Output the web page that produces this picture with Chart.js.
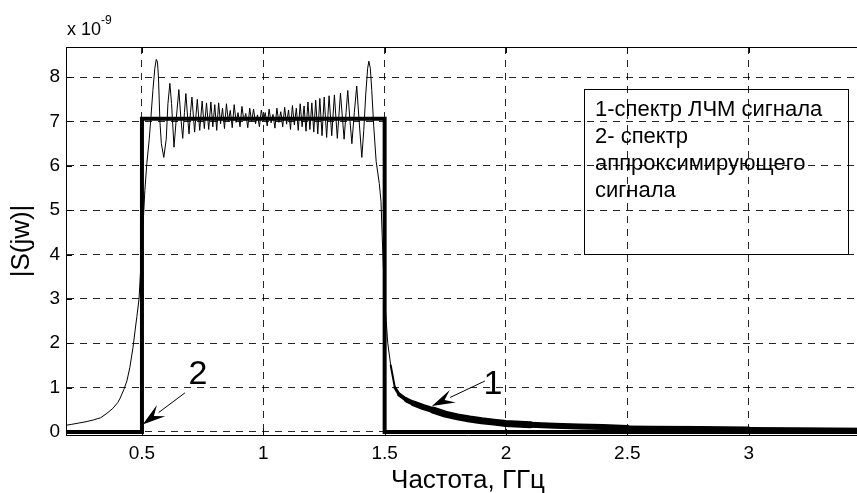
<!DOCTYPE html>
<html>
<head>
<meta charset="utf-8">
<script src="https://cdn.jsdelivr.net/npm/chart.js@4.4.0/dist/chart.umd.min.js"></script>
<style>
  html, body { margin:0; padding:0; background:#fff; overflow:hidden; }
  #wrap { width:900px; height:493px; }
</style>
</head>
<body>
<div id="wrap"><canvas id="c" width="900" height="493"></canvas></div>
<script>
// === data ===
const X_MIN = 0.187, X_MAX = 3.5;
const Y_MIN = -0.07, Y_MAX = 8.68;
const xTicks = [0.5, 1, 1.5, 2, 2.5, 3];
const yTicks = [0, 1, 2, 3, 4, 5, 6, 7, 8];

// 1 - spectrum of the LFM signal
const freq1 = [
  0.187,0.21,0.24,0.27,0.30,0.33,0.356,0.38,0.40,0.41,0.425,0.438,0.45,0.463,0.472,0.479,0.488,
  0.50,0.512,0.52,0.53,0.537,0.545,0.553,0.559,0.564,0.568,0.574,0.58,0.59,0.60,0.607,0.615,
  0.622,0.632,0.642,0.652,0.660,0.668,0.675,0.681,0.688,0.694,0.700,0.706,0.717,0.728,0.738,
  0.748,0.757,0.766,0.775,0.784,0.792,0.800,0.808,0.816,0.824,0.832,0.840,0.848,0.856,0.864,
  0.872,0.880,0.888,0.896,0.904,0.912,0.920,0.928,0.936,0.944,0.952,0.960,0.968,0.976,0.984,
  0.992,1.000,1.008,1.016,1.024,1.032,1.040,1.048,1.056,1.064,1.072,1.080,1.088,1.096,1.104,
  1.112,1.120,1.128,1.136,1.144,1.152,1.160,1.168,1.176,1.184,1.192,1.200,1.208,1.216,1.2245,
  1.233,1.242,1.251,1.261,1.271,1.282,1.293,1.305,1.318,1.333,1.341,1.348,1.356,1.365,1.375,
  1.385,1.395,1.406,1.414,1.422,1.430,1.435,1.441,1.447,1.455,1.465,1.478,1.485,1.49,1.50,
  1.513,1.525,1.542,1.56,1.59,1.62,1.66,1.70,1.75,1.80,1.85,1.90,1.95,2.00,2.10,2.20,2.30,
  2.40,2.50,2.60,2.80,3.00,3.20,3.50
];
const amp1 = [
  0.15,0.17,0.20,0.23,0.27,0.32,0.42,0.53,0.66,0.76,0.95,1.15,1.45,1.9,2.3,2.6,3.0,
  4.2,5.45,6.05,6.6,7.1,7.7,8.2,8.4,8.34,8.0,7.0,6.5,6.19,6.6,7.4,7.86,
  7.4,6.42,7.1,7.72,7.1,6.62,7.2,7.63,7.1,6.72,7.2,7.55,6.76,7.50,6.80,
  7.46,6.84,7.42,6.82,7.44,6.88,7.38,6.80,7.42,6.95,7.30,6.84,7.40,7.00,7.25,
  6.86,7.38,6.98,7.20,6.88,7.34,7.02,7.18,6.86,7.30,7.00,7.28,6.95,7.15,6.88,
  7.26,7.02,7.20,6.90,7.28,6.97,7.16,6.85,7.30,6.98,7.22,6.88,7.32,6.94,7.26,
  6.82,7.36,6.92,7.30,6.80,7.40,6.88,7.35,6.78,7.44,6.82,7.42,6.76,7.48,6.72,
  7.52,6.68,7.55,6.64,7.58,6.68,7.60,6.62,7.64,6.60,7.2,7.70,7.1,6.50,7.2,
  7.80,7.0,6.19,6.8,7.6,8.2,8.36,8.2,7.7,6.9,6.1,5.6,5.2,4.4,3.0,
  2.0,1.5,1.0,0.84,0.72,0.64,0.56,0.49,0.40,0.34,0.29,0.25,0.22,0.19,0.16,0.14,0.12,
  0.11,0.09,0.085,0.075,0.065,0.06,0.05
];

// 2 - spectrum of the approximating signal
const freq2 = [0.187, 0.5, 0.5, 1.5, 1.5, 3.5];
const amp2  = [0, 0, 7.06, 7.06, 0, 0];

const legendLines = ["1-спектр ЛЧМ сигнала", "2- спектр", "аппроксимирующего", "сигнала"];

// arrow labels: text anchor (baseline centre) and arrow from -> tip, in data units
const markLabels = ["1", "2"];
const markTextX  = [1.946, 0.731];
const markTextY  = [0.855, 1.08];
const arrowFromX = [1.913, 0.677];
const arrowFromY = [1.147, 0.88];
const arrowToX   = [1.695, 0.503];
const arrowToY   = [0.583, 0.167];

const FONT = "Arial, 'Liberation Sans', sans-serif";

// === extras: box frame, inner ticks, exponent, text box, arrows ===
const extras = {
  id: "extras",
  afterDraw(chart){
    const {ctx, chartArea:a, scales:{x, y}} = chart;
    ctx.save();
    ctx.strokeStyle = "#000";
    ctx.fillStyle = "#000";
    ctx.lineWidth = 1;
    ctx.beginPath();
    ctx.moveTo(a.left, a.top + 0.5); ctx.lineTo(a.right, a.top + 0.5);
    ctx.moveTo(a.right - 0.5, a.top); ctx.lineTo(a.right - 0.5, a.bottom);
    xTicks.forEach(v => {
      const px = Math.round(x.getPixelForValue(v)) + 0.5;
      ctx.moveTo(px, a.bottom); ctx.lineTo(px, a.bottom - 6);
      ctx.moveTo(px, a.top); ctx.lineTo(px, a.top + 6);
    });
    yTicks.forEach(v => {
      const py = Math.round(y.getPixelForValue(v)) + 0.5;
      ctx.moveTo(a.left, py); ctx.lineTo(a.left + 6, py);
    });
    ctx.stroke();

    // exponent
    ctx.font = "18px " + FONT;
    ctx.textBaseline = "alphabetic";
    ctx.textAlign = "left";
    ctx.fillText("x 10", a.left + 1, a.top - 12);
    const w = ctx.measureText("x 10").width;
    ctx.font = "12px " + FONT;
    ctx.fillText("-9", a.left + 1 + w, a.top - 23);

    // text box
    ctx.strokeRect(584.5, 89.5, 264, 165);
    ctx.font = "22px " + FONT;
    legendLines.forEach((t, i) => ctx.fillText(t, 595, 116 + i * 27));

    // arrows + labels
    ctx.font = "34px " + FONT;
    ctx.textAlign = "center";
    markLabels.forEach((t, i) => {
      ctx.fillText(t, x.getPixelForValue(markTextX[i]), y.getPixelForValue(markTextY[i]));
      const x0 = x.getPixelForValue(arrowFromX[i]), y0 = y.getPixelForValue(arrowFromY[i]);
      const x1 = x.getPixelForValue(arrowToX[i]),   y1 = y.getPixelForValue(arrowToY[i]);
      const ang = Math.atan2(y1 - y0, x1 - x0);
      const L = 20, H = 7;
      const bx = x1 - L * Math.cos(ang), by = y1 - L * Math.sin(ang);
      ctx.beginPath();
      ctx.moveTo(x0, y0); ctx.lineTo(bx, by);
      ctx.stroke();
      ctx.beginPath();
      ctx.moveTo(x1, y1);
      ctx.lineTo(bx - H * Math.sin(ang) - 3 * Math.cos(ang), by + H * Math.cos(ang) - 3 * Math.sin(ang));
      ctx.lineTo(bx + 6 * Math.cos(ang), by + 6 * Math.sin(ang));
      ctx.lineTo(bx + H * Math.sin(ang) - 3 * Math.cos(ang), by - H * Math.cos(ang) - 3 * Math.sin(ang));
      ctx.closePath();
      ctx.fill();
    });
    ctx.restore();
  }
};

// the dense ripple after 1.5 GHz reads as a band: widen the line there
const tailWidth = c => {
  const xv = c.p0.parsed.x;
  if (xv < 1.52) return 1;
  if (xv < 1.54) return 2;
  if (xv < 1.56) return 3;
  if (xv < 1.59) return 4;
  if (xv < 1.62) return 5;
  if (xv < 1.70) return 6;
  if (xv < 2.1) return 7;
  if (xv < 2.5) return 6;
  if (xv < 3.0) return 5;
  return 4;
};

const gridOpts = { color: "rgba(0,0,0,0.85)", lineWidth: 1, drawTicks: false };

new Chart(document.getElementById("c"), {
  type: "line",
  data: {
    datasets: [
      { label: "2", data: freq2.map((f, i) => ({x: f, y: amp2[i]})),
        borderColor: "#000", borderWidth: 4, pointRadius: 0, tension: 0, fill: false,
        borderJoinStyle: "miter", borderCapStyle: "butt" },
      { label: "1", data: freq1.map((f, i) => ({x: f, y: amp1[i]})),
        borderColor: "#000", borderWidth: 1, pointRadius: 0, tension: 0, fill: false,
        borderCapStyle: "round", borderJoinStyle: "round",
        segment: { borderWidth: tailWidth } }
    ]
  },
  options: {
    responsive: false,
    animation: false,
    events: [],
    layout: { padding: { top: 47, right: 30, left: 0, bottom: 0 } },
    plugins: { legend: { display: false }, tooltip: { enabled: false } },
    scales: {
      x: {
        type: "linear", min: X_MIN, max: X_MAX,
        afterBuildTicks: s => { s.ticks = xTicks.map(v => ({value: v})); },
        afterFit: s => { s.height = 58; },
        ticks: { color: "#000", padding: 7, maxRotation: 0, autoSkip: false,
                 font: { family: FONT, size: 19 }, callback: v => String(v) },
        grid: gridOpts,
        border: { display: true, color: "#000", width: 1, dash: [7, 6] },
        title: { display: true, text: "Частота, ГГц", color: "#000",
                 font: { family: FONT, size: 26 }, padding: { top: 0, bottom: -3 } }
      },
      y: {
        type: "linear", min: Y_MIN, max: Y_MAX,
        afterBuildTicks: s => { s.ticks = yTicks.map(v => ({value: v})); },
        afterFit: s => { s.width = 66; },
        ticks: { color: "#000", padding: 6, font: { family: FONT, size: 19 },
                 callback: v => String(v) },
        grid: gridOpts,
        border: { display: true, color: "#000", width: 1, dash: [7, 6] },
        title: { display: true, text: "|S(jw)|", color: "#000",
                 font: { family: FONT, size: 26 }, padding: { top: 6, bottom: 0 } }
      }
    }
  },
  plugins: [extras]
});
</script>
</body>
</html>
